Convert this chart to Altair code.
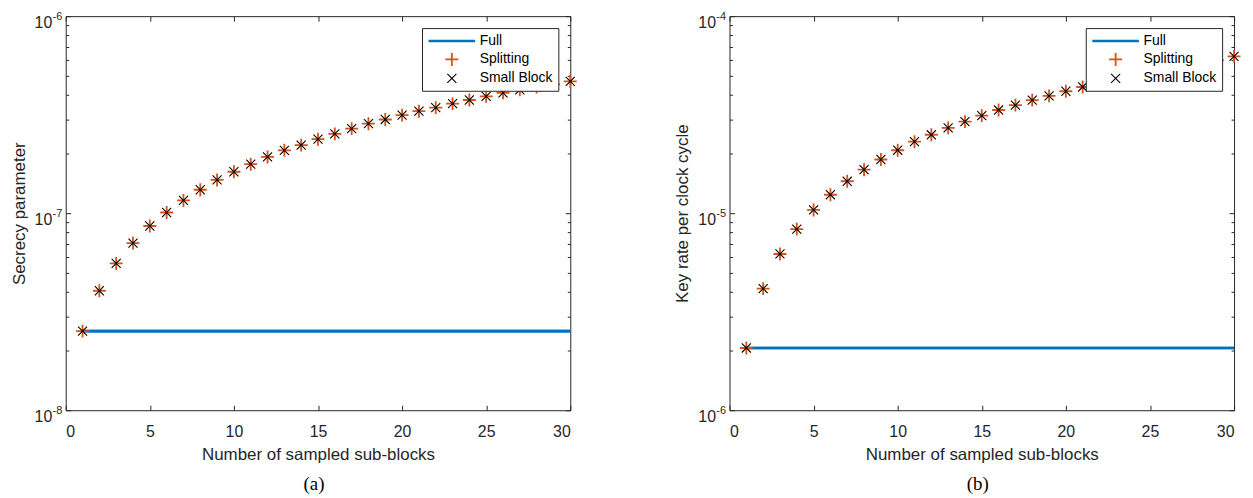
import altair as alt
import pandas as pd

# ---------------- data ----------------
n_values = list(range(1, 31))
full_x = [1, 30]

full_a = [2.52e-8, 2.52e-8]
splitting_a = [2.52e-8, 4.04e-8, 5.56e-8, 7.05e-8, 8.61e-8, 1.008e-7, 1.161e-7, 1.315e-7,
               1.475e-7, 1.623e-7, 1.773e-7, 1.93e-7, 2.085e-7, 2.216e-7, 2.375e-7, 2.526e-7,
               2.686e-7, 2.846e-7, 2.99e-7, 3.145e-7, 3.294e-7, 3.434e-7, 3.597e-7, 3.754e-7,
               3.917e-7, 4.08e-7, 4.23e-7, 4.37e-7, 4.51e-7, 4.67e-7]
small_block_a = [2.52e-8, 4.04e-8, 5.56e-8, 7.05e-8, 8.61e-8, 1.008e-7, 1.161e-7, 1.315e-7,
                 1.475e-7, 1.623e-7, 1.773e-7, 1.93e-7, 2.085e-7, 2.216e-7, 2.375e-7, 2.526e-7,
                 2.686e-7, 2.846e-7, 2.99e-7, 3.145e-7, 3.294e-7, 3.434e-7, 3.597e-7, 3.754e-7,
                 3.917e-7, 4.08e-7, 4.23e-7, 4.37e-7, 4.51e-7, 4.67e-7]

full_b = [2.07e-6, 2.07e-6]
splitting_b = [2.07e-6, 4.14e-6, 6.21e-6, 8.3e-6, 1.039e-5, 1.241e-5, 1.452e-5, 1.663e-5,
               1.873e-5, 2.087e-5, 2.306e-5, 2.5e-5, 2.71e-5, 2.916e-5, 3.126e-5, 3.338e-5,
               3.536e-5, 3.747e-5, 3.939e-5, 4.157e-5, 4.371e-5, 4.57e-5, 4.77e-5, 4.97e-5,
               5.17e-5, 5.37e-5, 5.57e-5, 5.77e-5, 5.97e-5, 6.25e-5]
small_block_b = [2.07e-6, 4.14e-6, 6.21e-6, 8.3e-6, 1.039e-5, 1.241e-5, 1.452e-5, 1.663e-5,
                 1.873e-5, 2.087e-5, 2.306e-5, 2.5e-5, 2.71e-5, 2.916e-5, 3.126e-5, 3.338e-5,
                 3.536e-5, 3.747e-5, 3.939e-5, 4.157e-5, 4.371e-5, 4.57e-5, 4.77e-5, 4.97e-5,
                 5.17e-5, 5.37e-5, 5.57e-5, 5.77e-5, 5.97e-5, 6.25e-5]

series_names = ["Full", "Splitting", "Small Block"]
x_ticks = [0, 5, 10, 15, 20, 25, 30]

# ---------------- style ----------------
W, H = 507, 396
FONT = "Liberation Sans"
TXT = "#262626"
series_colors = ["#0072BD", "#D95319", "#000000"]
series_shapes = ["M-3.6,0L3.6,0", "M-1,0L1,0M0,-1L0,1", "M-0.7,-0.7L0.7,0.7M-0.7,0.7L0.7,-0.7"]
series_widths = [2.6, 1.1, 1.1]

color_scale = alt.Scale(domain=series_names, range=series_colors)
shape_scale = alt.Scale(domain=series_names, range=series_shapes)
sw_scale = alt.Scale(domain=series_names, range=series_widths)

legend_def = alt.Legend(
    title=None, orient="top-right", offset=12, padding=5,
    strokeColor=TXT, fillColor="white", cornerRadius=0,
    symbolSize=169, symbolOffset=17, labelOffset=20, rowPadding=1,
    labelFont=FONT, labelFontSize=14, labelColor="black",
)

major_test = "abs(log(datum.value)/LN10 - round(log(datum.value)/LN10)) < 0.001"


def panel(full_vals, split_vals, small_vals, exps, ytitle, caption):
    df_full = pd.DataFrame({"n": full_x, "v": full_vals, "series": "Full"})
    df_split = pd.DataFrame({"n": n_values, "v": split_vals, "series": "Splitting"})
    df_small = pd.DataFrame({"n": n_values, "v": small_vals, "series": "Small Block"})

    lo, hi = 10.0 ** exps[0], 10.0 ** exps[-1]
    major = [10.0 ** e for e in exps]
    minor = [k * 10.0 ** e for e in exps[:-1] for k in range(1, 10)] + [hi]
    exp_expr = (f"datum.value < {3 * major[0]:g} ? '{exps[0]}' : "
                f"datum.value < {3 * major[1]:g} ? '{exps[1]}' : '{exps[2]}'")

    xscale = alt.Scale(domain=[0, 30], nice=False, zero=False)
    yscale = alt.Scale(type="log", domain=[lo, hi], nice=False)

    # axes carrying labels and titles
    x_lab = alt.Axis(values=x_ticks, ticks=False, domain=False, grid=False,
                     labelFont=FONT, labelFontSize=16, labelColor=TXT, labelPadding=13,
                     title="Number of sampled sub-blocks", titleFont=FONT, titleFontSize=17,
                     titleFontWeight="normal", titleColor=TXT, titlePadding=8)
    y_lab = alt.Axis(values=major, ticks=False, domain=False, grid=False, labelExpr="'10'",
                     labelFont=FONT, labelFontSize=16, labelColor=TXT, labelPadding=14,
                     labelOffset=6, labelBaseline="middle",
                     title=ytitle, titleFont=FONT, titleFontSize=17,
                     titleFontWeight="normal", titleColor=TXT, titlePadding=6)
    y_exp = alt.Axis(orient="left", values=major, ticks=False, domain=False, grid=False,
                     labelExpr=exp_expr, labelFont=FONT, labelFontSize=11, labelColor=TXT,
                     labelPadding=4, labelOffset=0, labelBaseline="middle", title=None)
    # inward ticks
    tick_common = dict(labels=False, domain=False, grid=False, title=None,
                       tickColor=TXT, tickWidth=1)
    x_in_bottom = alt.Axis(orient="top", offset=-H, values=x_ticks, tickSize=5, **tick_common)
    x_in_top = alt.Axis(orient="bottom", offset=-H, values=x_ticks, tickSize=5, **tick_common)
    ysize = {"condition": {"test": major_test, "value": 5}, "value": 3}
    y_in_left = alt.Axis(orient="right", offset=-W, values=minor, tickSize=ysize, **tick_common)
    y_in_right = alt.Axis(orient="left", offset=-W, values=minor, tickSize=ysize, **tick_common)

    enc_series = dict(
        color=alt.Color("series:N", scale=color_scale, legend=legend_def),
        strokeWidth=alt.StrokeWidth("series:N", scale=sw_scale, legend=legend_def),
    )

    line = alt.Chart(df_full).mark_line().encode(
        x=alt.X("n:Q", scale=xscale, axis=x_lab),
        y=alt.Y("v:Q", scale=yscale, axis=y_lab),
        **enc_series,
    )
    line_exp = alt.Chart(df_full).mark_line().encode(
        x=alt.X("n:Q", scale=xscale, axis=None),
        y=alt.Y("v:Q", scale=yscale, axis=y_exp),
        **enc_series,
    )
    pts_split = alt.Chart(df_split).mark_point(filled=False, size=169, opacity=1).encode(
        x=alt.X("n:Q", scale=xscale, axis=x_in_bottom),
        y=alt.Y("v:Q", scale=yscale, axis=y_in_left),
        shape=alt.Shape("series:N", scale=shape_scale, legend=legend_def),
        **enc_series,
    )
    pts_small = alt.Chart(df_small).mark_point(filled=False, size=169, opacity=1).encode(
        x=alt.X("n:Q", scale=xscale, axis=x_in_top),
        y=alt.Y("v:Q", scale=yscale, axis=y_in_right),
        shape=alt.Shape("series:N", scale=shape_scale, legend=legend_def),
        **enc_series,
    )
    return alt.layer(line, line_exp, pts_split, pts_small).resolve_axis(
        x="independent", y="independent"
    ).properties(
        width=W, height=H,
        title=alt.TitleParams(caption, orient="bottom", anchor="middle", frame="group",
                              font="Liberation Serif", fontSize=19, fontWeight="normal",
                              color="black", offset=12, dx=-4),
    )


pa = panel(full_a, splitting_a, small_block_a, [-8, -7, -6], "Secrecy parameter", "(a)")
pb = panel(full_b, splitting_b, small_block_b, [-6, -5, -4], "Key rate per clock cycle", "(b)")

chart = alt.hconcat(pa, pb, spacing=92).resolve_scale(
    color="independent", shape="independent", strokeWidth="independent"
).resolve_legend(
    color="independent", shape="independent", strokeWidth="independent"
).properties(
    padding={"left": 1, "top": 0, "right": 0, "bottom": 0},
    background="white",
).configure_view(stroke=TXT, strokeWidth=1)

chart.save("out.html", embed_options={"renderer": "svg", "actions": False})
